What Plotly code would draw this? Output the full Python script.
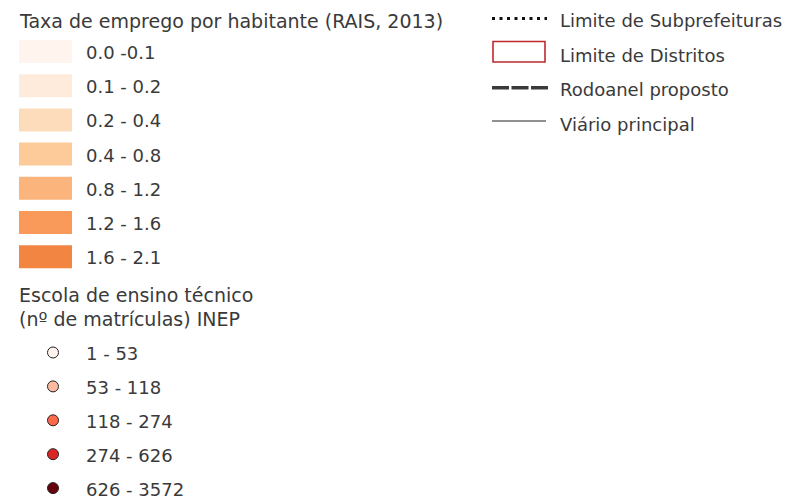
import plotly.graph_objects as go

# ---- data (legend content) ----
emp_title = "Taxa de emprego por habitante (RAIS, 2013)"
emp_labels = ["0.0 -0.1", "0.1 - 0.2", "0.2 - 0.4", "0.4 - 0.8", "0.8 - 1.2", "1.2 - 1.6", "1.6 - 2.1"]
emp_colors = ["#FFF5EE", "#FEEBDB", "#FDDCBC", "#FDCA9A", "#FBB47B", "#F99A5B", "#F28541"]

school_title = ["Escola de ensino técnico", "(nº de matrículas) INEP"]
school_labels = ["1 - 53", "53 - 118", "118 - 274", "274 - 626", "626 - 3572"]
school_colors = ["#FFF3EE", "#FCBBA1", "#FB6A4A", "#D92624", "#67000D"]

line_labels = ["Limite de Subprefeituras", "Limite de Distritos", "Rodoanel proposto", "Viário principal"]

# ---- layout constants (page pixel coordinates; page body has an 8px margin) ----
W, H = 798, 500
OFF = 8
FONT = "DejaVu Sans"
TXT = "#3A3A3A"
FS = 18
FS_TITLE = 19

fig = go.Figure()
annotations = []
shapes = []

def label(x, y, text, size=FS):
    annotations.append(dict(x=x, y=y, xref="x", yref="y", text=text, showarrow=False,
                            xanchor="left", yanchor="middle",
                            font=dict(family=FONT, size=size, color=TXT)))

# choropleth classes
label(17, 21, emp_title, FS_TITLE)
sw_x0, sw_x1, sw_y0, sw_step, sw_h = 19, 72, 40, 34.2, 23
for i, (lab, col) in enumerate(zip(emp_labels, emp_colors)):
    y0 = sw_y0 + i * sw_step
    shapes.append(dict(type="rect", xref="x", yref="y", x0=sw_x0, x1=sw_x1, y0=y0, y1=y0 + sw_h,
                       fillcolor=col, line=dict(width=0), layer="above"))
    label(84, y0 + sw_h / 2 + 1, lab)

# school circles
label(17, 295, school_title[0], FS_TITLE)
label(17, 319, school_title[1], FS_TITLE)
c_y0, c_step = 352.5, 33.9
cys = [c_y0 + i * c_step for i in range(len(school_labels))]
fig.add_trace(go.Scatter(x=[53] * len(cys), y=cys, mode="markers",
                         marker=dict(size=11, color=school_colors, line=dict(width=1, color="#222222")),
                         hoverinfo="skip", showlegend=False))
for lab, cy in zip(school_labels, cys):
    label(84, cy + 1, lab)

# line legend
l_x0, l_x1 = 492, 547
l_ys = [18.5, 52, 87.7, 121]
fig.add_trace(go.Scatter(x=[l_x0, l_x1], y=[l_ys[0]] * 2, mode="lines",
                         line=dict(color="#111111", width=3, dash="3px,4.5px"),
                         hoverinfo="skip", showlegend=False))
shapes.append(dict(type="rect", xref="x", yref="y", x0=l_x0 + 1, x1=l_x1 - 2, y0=41.5, y1=62,
                   fillcolor="rgba(0,0,0,0)", line=dict(color="#C0282D", width=1.6), layer="above"))
fig.add_trace(go.Scatter(x=[l_x0, l_x1 + 1], y=[l_ys[2]] * 2, mode="lines",
                         line=dict(color="#3A3A3A", width=3.5, dash="17px,2.5px"),
                         hoverinfo="skip", showlegend=False))
fig.add_trace(go.Scatter(x=[l_x0, l_x1 - 1], y=[l_ys[3]] * 2, mode="lines",
                         line=dict(color="#222222", width=1.2),
                         hoverinfo="skip", showlegend=False))
label_ys = [20, 55, 89.5, 124]
for lab, ly in zip(line_labels, label_ys):
    label(558, ly, lab)

fig.update_layout(
    width=W - OFF, height=H - OFF,
    margin=dict(l=0, r=0, t=0, b=0),
    paper_bgcolor="white", plot_bgcolor="white",
    xaxis=dict(range=[OFF, W], visible=False, fixedrange=True),
    yaxis=dict(range=[H, OFF], visible=False, fixedrange=True),
    annotations=annotations, shapes=shapes, showlegend=False,
)
fig.write_html("out.html")
